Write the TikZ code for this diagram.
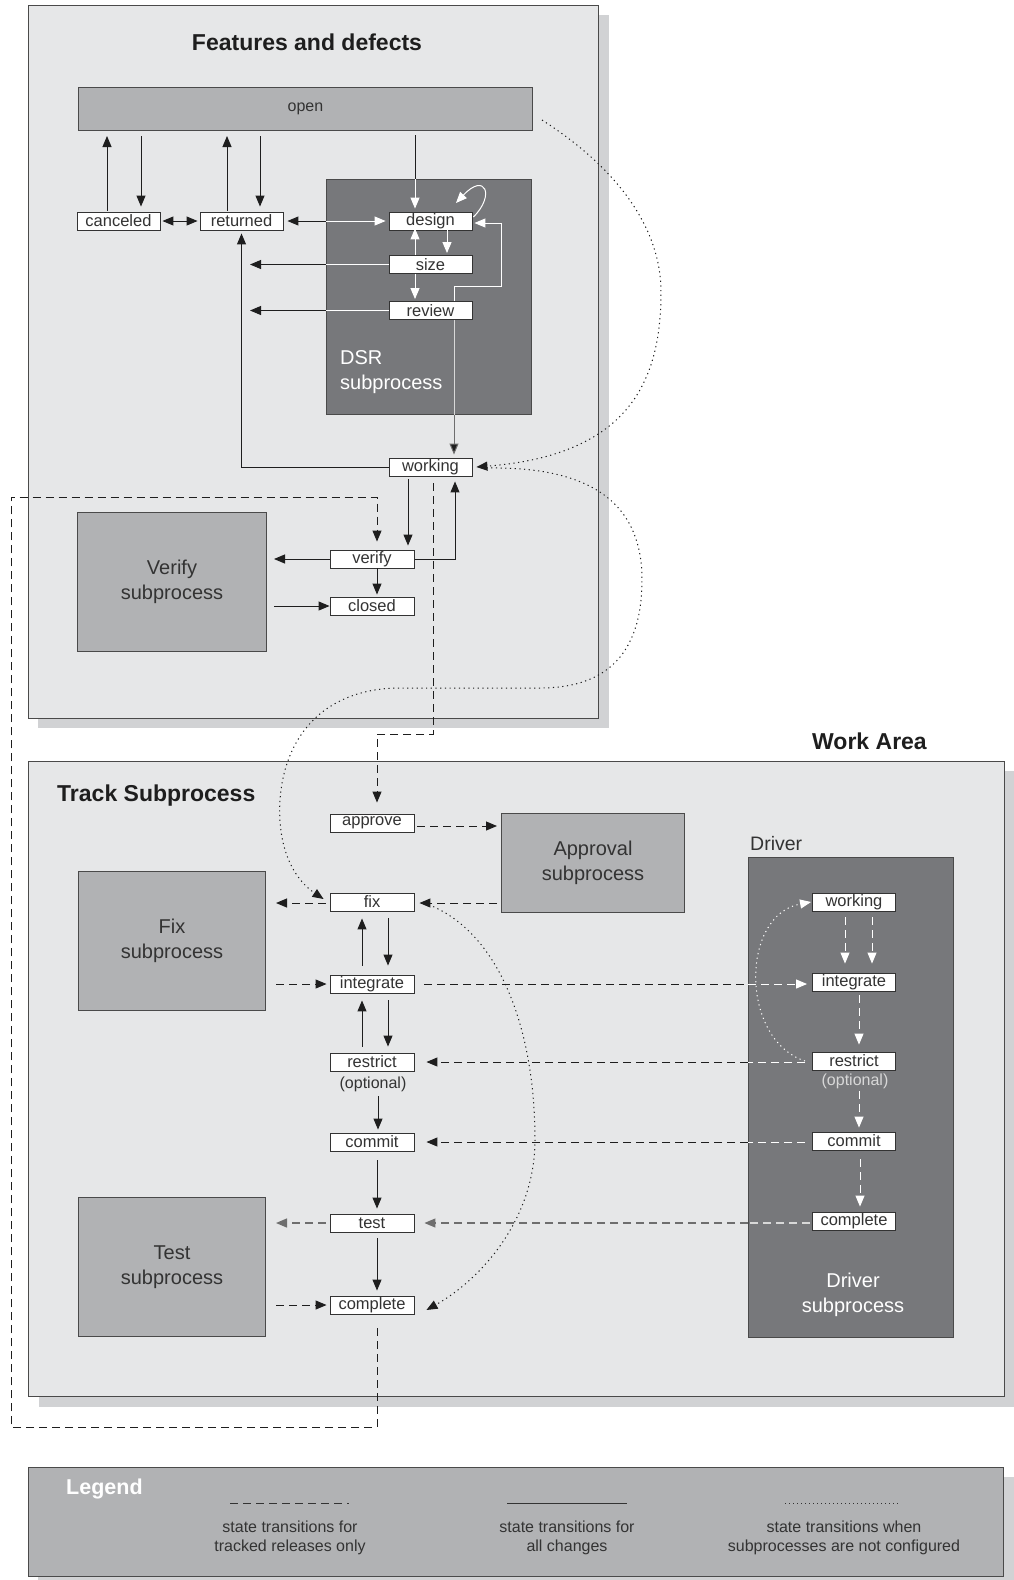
\documentclass[tikz,border=0pt]{standalone}
\usepackage{fontspec}
\setmainfont{Liberation Sans}
\usetikzlibrary{arrows.meta,calc}
\definecolor{panel}{HTML}{E6E7E8}
\definecolor{shadowc}{HTML}{D1D2D4}
\definecolor{midg}{HTML}{B1B2B4}
\definecolor{darkg}{HTML}{77787B}
\definecolor{txt}{HTML}{333333}
\definecolor{edge}{HTML}{4A4A4A}
\definecolor{lnc}{HTML}{1E1E1E}
\definecolor{grayln}{HTML}{6E6E6E}
\definecolor{lightln}{HTML}{D8D8D8}
\begin{document}
\begin{tikzpicture}[x=1pt,y=-1pt,
  st/.style={draw=txt,fill=white,line width=0.9pt,minimum width=83pt,minimum height=18pt,inner sep=0pt,font=\fontsize{16.5}{16.5}\selectfont,text=txt},
  pbox/.style={draw=edge,fill=panel,line width=1pt,anchor=north west,inner sep=0pt},
  gbox/.style={draw=edge,fill=midg,line width=1pt,anchor=north west,inner sep=0pt,align=center,font=\fontsize{20}{25}\selectfont,text=txt},
  dbox/.style={draw=edge,fill=darkg,line width=1pt,anchor=north west,inner sep=0pt},
  ttl/.style={font=\fontsize{23}{23}\selectfont\bfseries,text=lnc,inner sep=0pt},
  sl/.style={draw=lnc,line width=1pt},
  wl/.style={draw=white,line width=1pt},
  dsh/.style={draw=lnc,line width=1pt,dash pattern=on 8pt off 5pt},
  wdsh/.style={draw=white,line width=1pt,dash pattern=on 8pt off 5pt},
  gdsh/.style={draw=grayln,line width=1.2pt,dash pattern=on 8pt off 5pt},
  lgdsh/.style={draw=lightln,line width=1.2pt,dash pattern=on 8pt off 5pt},
  dl/.style={draw=lnc,line width=1pt,dash pattern=on 1.2pt off 3.5pt},
  wdl/.style={draw=white,line width=1pt,dash pattern=on 1.2pt off 3.5pt},
  ar/.style={-{Triangle[length=11pt,width=9pt]}},
  rar/.style={{Triangle[length=11pt,width=9pt]}-},
  dar/.style={{Triangle[length=11pt,width=9pt]}-{Triangle[length=11pt,width=9pt]}}
]
\useasboundingbox (0,0) rectangle (1014,1580);
\fill[white] (0,0) rectangle (1014,1580);

% ---------- top panel ----------
\fill[shadowc] (38,15) rectangle (609,728);
\node[pbox,minimum width=570pt,minimum height=713pt] (toppanel) at (28,5) {};
\node[ttl] (ttltop) at (307,42) {Features and defects};
\node[anchor=north west,draw=edge,fill=midg,line width=1pt,minimum width=454pt,minimum height=43pt,inner sep=0pt,font=\fontsize{16}{16}\selectfont,text=txt] (open) at (78,87) {open};
\node[dbox,minimum width=205pt,minimum height=235pt] (dsr) at (326,179) {};
\node[anchor=west,align=left,inner sep=0pt,font=\fontsize{20}{25}\selectfont,text=white] (dsrlbl) at (340,372) {DSR\\subprocess};
\node[gbox,minimum width=189pt,minimum height=139pt] (verifysub) at (77,512) {Verify\\subprocess};

\node[st] (canceled) at (118.5,221) {canceled};
\node[st] (returned) at (241.5,221) {returned};
\node[st] (design) at (430.5,221) {design};
\node[st] (size) at (430.5,264.5) {size};
\node[st] (review) at (430.5,310.5) {review};
\node[st] (working) at (430.5,467) {working};
\node[st,minimum width=84pt] (verify) at (372,559) {verify};
\node[st,minimum width=84pt] (closed) at (372,606) {closed};

% connectors top
\draw[sl,ar] ($(canceled.north)+(-11.5,-1)$) -- ($(canceled.north |- open.south)+(-11.5,5)$);
\draw[sl,ar] ($(canceled.north |- open.south)+(22.5,5)$) -- ($(canceled.north)+(22.5,-5)$);
\draw[sl,ar] ($(returned.north)+(-14.5,-1)$) -- ($(returned.north |- open.south)+(-14.5,5)$);
\draw[sl,ar] ($(returned.north |- open.south)+(18.5,5)$) -- ($(returned.north)+(18.5,-5)$);
\draw[sl,dar] ($(canceled.east)+(2,0)$) -- ($(returned.west)+(-2,0)$);
\draw[sl,rar] ($(returned.east)+(4,0)$) -- (dsr.west |- returned.east);
\draw[wl,ar] (dsr.west |- design.west) -- ($(design.west)+(-3,0)$);
\draw[sl] ($(design.north |- open.south)+(-15.5,4)$) -- ($(design.north |- dsr.north)+(-15.5,0)$);
\draw[wl,ar] ($(design.north |- dsr.north)+(-15.5,0)$) -- ($(design.north)+(-15.5,-3)$);
\draw[wl,ar] ($(design.east)+(1,-4)$) .. controls +(22,-22) and +(29,-31) .. ($(design.center)+(25.5,-18)$);
\draw[wl,ar] ($(design.south)+(16.5,0)$) -- ($(size.north)+(16.5,-2)$);
\draw[wl,ar] ($(size.north)+(-15.5,0)$) -- ($(design.south)+(-15.5,-2)$);
\draw[wl,ar] ($(size.south)+(-15.5,0)$) -- ($(review.north)+(-15.5,-2)$);
\draw[wl,ar] ($(review.north)+(23.5,0)$) -- ++(0,-15) -| ($(design.east)+(29,2)$) -- ($(design.east)+(2,2)$);
\draw[wl] (size.west) -- (size.west -| dsr.west);
\draw[sl,ar] (size.west -| dsr.west) -- ($(size.west -| returned.south)+(8.5,0)$);
\draw[wl] (review.west) -- (review.west -| dsr.west);
\draw[sl,ar] (review.west -| dsr.west) -- ($(review.west -| returned.south)+(8.5,0)$);
\draw[draw=lightln,line width=1pt] ($(review.south)+(23.5,0)$) -- ($(review.south |- dsr.south)+(23.5,0)$);
\draw[draw=grayln,line width=1pt,-{Triangle[length=11pt,width=9pt,fill=lnc]}] ($(review.south |- dsr.south)+(23.5,0)$) -- ($(working.north)+(23.5,-3)$);
\draw[sl,ar] (working.west) -| ($(returned.south)+(0,3)$);
\draw[sl,ar] ($(working.south)+(-22.5,3)$) -- ($(working.south |- verify.north)+(-22.5,-4)$);
\draw[sl,ar] ($(verify.east)+(1,0)$) -| ($(working.south)+(24.5,5)$);
\draw[sl,ar] (verify.west) -- ($(verify.west -| verifysub.east)+(7,0)$);
\draw[sl,ar] ($(verify.south)+(5,0)$) -- ($(closed.north)+(5,-2)$);
\draw[sl,ar] ($(closed.west -| verifysub.east)+(7,0)$) -- (closed.west);

% ---------- work area ----------
\fill[shadowc] (39,771) rectangle (1014,1407);
\node[pbox,minimum width=976pt,minimum height=635pt] (workpanel) at (28,761) {};
\node[ttl,anchor=east] (ttlwork) at (927,741) {Work Area};
\node[ttl,anchor=west] (ttltrack) at (57,796) {Track Subprocess};
\node[gbox,minimum width=183pt,minimum height=99pt] (approval) at (501,813) {Approval\\subprocess};
\node[gbox,minimum width=187pt,minimum height=139pt] (fixsub) at (78,871) {Fix\\subprocess};
\node[gbox,minimum width=187pt,minimum height=139pt] (testsub) at (78,1197) {Test\\subprocess};
\node[dbox,minimum width=205pt,minimum height=480pt] (driver) at (748,857) {};
\node[anchor=west,inner sep=0pt,font=\fontsize{19.5}{20}\selectfont,text=txt] (driverlbl) at (750,844) {Driver};
\node[align=center,inner sep=0pt,font=\fontsize{20}{25}\selectfont,text=white] (driversub) at (853,1295) {Driver\\subprocess};

\node[st,minimum width=84pt] (approve) at (372,823) {approve};
\node[st,minimum width=84pt] (fix) at (372,902) {fix};
\node[st,minimum width=84pt] (integrate) at (372,984) {integrate};
\node[st,minimum width=84pt] (restrict) at (372,1062) {restrict};
\node[inner sep=0pt,font=\fontsize{16}{16}\selectfont,text=txt] (optA) at (373,1084) {(optional)};
\node[st,minimum width=84pt] (commit) at (372,1142) {commit};
\node[st,minimum width=84pt] (test) at (372,1223) {test};
\node[st,minimum width=84pt] (complete) at (372,1305) {complete};

\node[st] (dworking) at (854,902) {working};
\node[st] (dintegrate) at (854,982) {integrate};
\node[st] (drestrict) at (854,1061) {restrict};
\node[inner sep=0pt,font=\fontsize{16}{16}\selectfont,text=lightln] (optB) at (855,1081) {(optional)};
\node[st] (dcommit) at (854,1141) {commit};
\node[st] (dcomplete) at (854,1221) {complete};

% connectors bottom
\draw[dsh,ar] ($(working.south)+(2.5,7)$) |- ($(approve.north)+(5,-79)$) -- ($(approve.north)+(5,-11)$);
\coordinate (loopc) at (11,497);
\draw[dsh,ar] ($(complete.south)+(5,14)$) -- ($(complete.south)+(5,113)$) -| (loopc) -| ($(verify.north)+(5,-8)$);
\draw[dsh,ar] ($(approve.east)+(3,3)$) -- ($(approve.east -| approval.west)+(-4,3)$);
\draw[dsh,ar] ($(fix.west)+(-4,1)$) -- ($(fix.west -| fixsub.east)+(10,1)$);
\draw[dsh,ar] ($(fix.east -| approval.west)+(-4,1)$) -- ($(fix.east)+(5,1)$);
\draw[sl,ar] ($(integrate.north)+(-10,-9)$) -- ($(fix.south)+(-10,7)$);
\draw[sl,ar] ($(fix.south)+(16,7)$) -- ($(integrate.north)+(16,-9)$);
\draw[dsh,ar] ($(integrate.west -| fixsub.east)+(10,0)$) -- ($(integrate.west)+(-3,0)$);
\draw[dsh] ($(integrate.east)+(10,0)$) -- (integrate.east -| driver.west);
\draw[wdsh,ar] (integrate.east -| driver.west) -- ($(integrate.east -| dintegrate.west)+(-5,0)$);
\draw[sl,ar] ($(restrict.north)+(-10,-6)$) -- ($(integrate.south)+(-10,7)$);
\draw[sl,ar] ($(integrate.south)+(16,7)$) -- ($(restrict.north)+(16,-6)$);
\draw[wdsh] ($(restrict.east -| drestrict.west)+(-7,0)$) -- (restrict.east -| driver.west);
\draw[dsh,ar] (restrict.east -| driver.west) -- ($(restrict.east)+(12,0)$);
\draw[sl,ar] ($(restrict.south)+(6,25)$) -- ($(commit.north)+(6,-3)$);
\draw[wdsh] ($(commit.east -| dcommit.west)+(-7,0)$) -- (commit.east -| driver.west);
\draw[dsh,ar] (commit.east -| driver.west) -- ($(commit.east)+(12,0)$);
\draw[sl,ar] ($(commit.south)+(5,9)$) -- ($(test.north)+(5,-5)$);
\draw[gdsh,ar] ($(test.west)+(-4,0)$) -- ($(test.west -| testsub.east)+(10,0)$);
\draw[lgdsh] ($(test.east -| dcomplete.west)+(-2,0)$) -- (test.east -| driver.west);
\draw[gdsh,ar] (test.east -| driver.west) -- ($(test.east)+(10,0)$);
\draw[sl,ar] ($(test.south)+(5,6)$) -- ($(complete.north)+(5,-5)$);
\draw[dsh,ar] ($(complete.west -| testsub.east)+(10,0)$) -- ($(complete.west)+(-3,0)$);

\draw[wdsh,ar] ($(dworking.south)+(-9,6)$) -- ($(dintegrate.north)+(-9,-9)$);
\draw[wdsh,ar] ($(dworking.south)+(18,6)$) -- ($(dintegrate.north)+(18,-9)$);
\draw[wdsh,ar] ($(dintegrate.south)+(5,4)$) -- ($(drestrict.north)+(5,-7)$);
\draw[wdsh,ar] ($(drestrict.south)+(5,21)$) -- ($(dcommit.north)+(5,-4)$);
\draw[wdsh,ar] ($(dcommit.south)+(6,9)$) -- ($(dcomplete.north)+(6,-5)$);
\draw[wdl,ar] ($(drestrict.west)+(-7,0)$) .. controls (740,1040) and (740,915) .. ($(dworking.west)+(-1,0)$);

% dotted curves
\draw[dl,ar] ($(open.east)+(9,11)$) .. controls (620,170) and (661,230) .. (661,292) .. controls (661,380) and (630,455) .. ($(working.east)+(4,0)$);
\draw[dl,ar] ($(working.east)+(14,1)$) .. controls (600,466) and (642,510) .. (642,580) .. controls (642,660) and (600,688) .. (540,688) -- (400,688) .. controls (330,688) and (285,730) .. (280,800) .. controls (277,850) and (295,880) .. ($(fix.west)+(-6,-3)$);
\draw[dl,ar] ($(fix.east)+(10,1)$) .. controls (500,930) and (535,1030) .. (535,1140) .. controls (535,1220) and (480,1280) .. ($(complete.east)+(12,5)$);

% ---------- legend ----------
\fill[shadowc] (38,1477) rectangle (1014,1580);
\node[anchor=north west,draw=edge,fill=midg,line width=1pt,minimum width=975pt,minimum height=109pt,inner sep=0pt] (legend) at (28,1467) {};
\node[anchor=west,inner sep=0pt,font=\fontsize{21.5}{21.5}\selectfont\bfseries,text=white] (legendttl) at (66,1489) {Legend};
\draw[draw=txt,line width=1pt,dash pattern=on 8pt off 5pt] (230,1503) -- (349,1503);
\draw[draw=txt,line width=1pt] (507,1503) -- (627,1503);
\draw[draw=txt,line width=0.9pt,dash pattern=on 1pt off 3pt] (785,1503) -- (900,1503);
\node[align=center,inner sep=0pt,font=\fontsize{16}{19}\selectfont,text=txt] (lg1) at (290,1538) {state transitions for\\tracked releases only};
\node[align=center,inner sep=0pt,font=\fontsize{16}{19}\selectfont,text=txt] (lg2) at (567,1538) {state transitions for\\all changes};
\node[align=center,inner sep=0pt,font=\fontsize{16}{19}\selectfont,text=txt] (lg3) at (844,1538) {state transitions when\\subprocesses are not configured};
\end{tikzpicture}
\end{document}
